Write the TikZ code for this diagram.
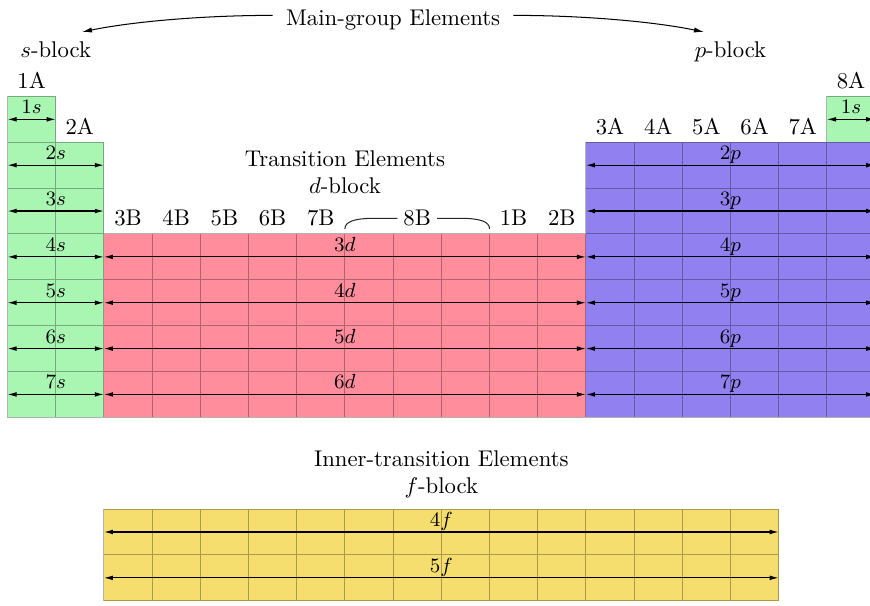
\documentclass[tikz,border=0pt]{standalone}
\usetikzlibrary{arrows.meta}

\definecolor{sfill}{RGB}{168,246,178}
\definecolor{dfill}{RGB}{255,141,155}
\definecolor{pfill}{RGB}{145,128,239}
\definecolor{ffill}{RGB}{245,222,110}

\begin{document}
\begin{tikzpicture}[x=0.44pt, y=-0.44pt,
  cellline/.style={black, opacity=0.3, line width=0.45pt},
  orb/.style={{Latex[length=4pt,width=2.1pt]}-{Latex[length=4pt,width=2.1pt]}, line width=0.5pt, black},
  orblabel/.style={midway, anchor=base, yshift=2.4pt, inner sep=0pt, font=\small},
  grp/.style={anchor=base, yshift=3.6pt, inner sep=0pt},
  head/.style={anchor=base, inner sep=0pt},
  mgarrow/.style={-{Latex[length=4.4pt,width=2.3pt]}, line width=0.45pt, black},
  brace/.style={line width=0.45pt, black!85},
]
\useasboundingbox (0,0) rectangle (870,605);

% ---------- the table, in cell units: one column wide, one period high ----------
\begin{scope}[shift={(7.5,96.4)}, x=21.208pt, y=-20.174pt]
  % block fills
  \fill[sfill] (0,0) rectangle (1,1);
  \fill[sfill] (0,1) rectangle (2,7);
  \fill[sfill] (17,0) rectangle (18,1);
  \fill[dfill] (2,3) rectangle (12,7);
  \fill[pfill] (12,1) rectangle (18,7);
  \fill[ffill] (2,9) rectangle (16,11);

  % cell borders, stroked as one path so shared edges are painted once
  \draw[cellline]
    (0,0) rectangle (1,1)
    (17,0) rectangle (18,1)
    \foreach \r in {1,...,6} { \foreach \c in {0,1,12,13,14,15,16,17} { (\c,\r) rectangle ++(1,1) } }
    \foreach \r in {3,...,6} { \foreach \c in {2,...,11} { (\c,\r) rectangle ++(1,1) } }
    \foreach \r in {9,10} { \foreach \c in {2,...,15} { (\c,\r) rectangle ++(1,1) } };

  % subshell arrows
  \coordinate (s1L) at (0,0.5);
  \coordinate (s1R) at (1,0.5);
  \draw[orb] (s1L) -- node[orblabel]{$1s$} (s1R);
  \coordinate (he1L) at (17,0.5);
  \coordinate (he1R) at (18,0.5);
  \draw[orb] (he1L) -- node[orblabel]{$1s$} (he1R);
  \foreach \n in {2,...,7} {
    \coordinate (s\n L) at (0,{\n-0.5});
    \coordinate (s\n R) at (2,{\n-0.5});
    \draw[orb] (s\n L) -- node[orblabel]{$\n s$} (s\n R);
    \coordinate (p\n L) at (12,{\n-0.5});
    \coordinate (p\n R) at (18,{\n-0.5});
    \draw[orb] (p\n L) -- node[orblabel]{$\n p$} (p\n R);
  }
  \foreach \n in {3,...,6} {
    \coordinate (d\n L) at (2,{\n+0.5});
    \coordinate (d\n R) at (12,{\n+0.5});
    \draw[orb] (d\n L) -- node[orblabel]{$\n d$} (d\n R);
  }
  \foreach \n in {4,5} {
    \coordinate (f\n L) at (2,{\n+5.5});
    \coordinate (f\n R) at (16,{\n+5.5});
    \draw[orb] (f\n L) -- node[orblabel]{$\n f$} (f\n R);
  }

  % group numbers
  \node[grp] (g1A) at (0.5,0) {1A};
  \node[grp] (g2A) at (1.5,1) {2A};
  \node[grp] (g3B) at (2.5,3) {3B};
  \node[grp] (g4B) at (3.5,3) {4B};
  \node[grp] (g5B) at (4.5,3) {5B};
  \node[grp] (g6B) at (5.5,3) {6B};
  \node[grp] (g7B) at (6.5,3) {7B};
  \node[grp, inner xsep=2.5pt] (g8B) at (8.5,3) {8B};
  \node[grp] (g1B) at (10.5,3) {1B};
  \node[grp] (g2B) at (11.5,3) {2B};
  \node[grp] (g3A) at (12.5,1) {3A};
  \node[grp] (g4A) at (13.5,1) {4A};
  \node[grp] (g5A) at (14.5,1) {5A};
  \node[grp] (g6A) at (15.5,1) {6A};
  \node[grp] (g7A) at (16.5,1) {7A};
  \node[grp] (g8A) at (17.5,0) {8A};

  % bracket spanning the three 8B columns
  \coordinate (b8L) at (7,2.89);
  \coordinate (b8R) at (10,2.89);
  \draw[brace] (g8B.west) -- ++(-0.46,0) .. controls +(-0.46,0) and +(0,-0.15) .. (b8L);
  \draw[brace] (g8B.east) -- ++(0.46,0) .. controls +(0.46,0) and +(0,-0.15) .. (b8R);
\end{scope}

% ---------- block headings ----------
\node[head, inner xsep=5.7pt] (mg) at (393.1,25) {Main-group Elements};
\node[head] (sblk) at (55.7,57) {$s$-block};
\node[head] (pblk) at (730.5,57) {$p$-block};
\node[head] (trans) at (344.9,166.3) {Transition Elements};
\node[head] (dblk) at (344.9,193.3) {$d$-block};
\node[head] (inner) at (441.3,466) {Inner-transition Elements};
\node[head] (fblk) at (441.3,493.3) {$f$-block};

\coordinate (sTip) at (82,32);
\coordinate (pTip) at (704,32);
\draw[mgarrow] ([yshift=1.8pt]mg.west) .. controls +(-72,0) and +(48,-10) .. (sTip);
\draw[mgarrow] ([yshift=1.8pt]mg.east) .. controls +(72,0) and +(-48,-10) .. (pTip);
\end{tikzpicture}
\end{document}
